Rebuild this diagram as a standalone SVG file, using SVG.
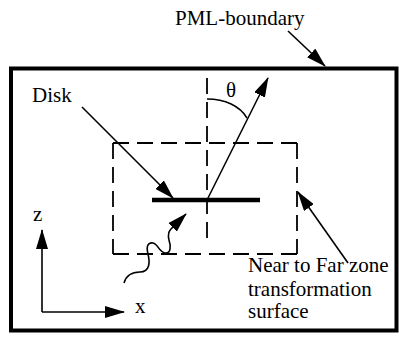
<svg xmlns="http://www.w3.org/2000/svg" width="399" height="337" viewBox="0 0 399 337">
<style>
text { font-family: "Liberation Serif", "Times New Roman", serif; font-size: 21px; fill: #000; }
.dash { fill: none; stroke: #000; stroke-width: 1.8; stroke-dasharray: 16 8; }
.arr { fill: none; stroke: #000; stroke-width: 1.6; marker-end: url(#ah); }
.thin { fill: none; stroke: #000; stroke-width: 1.5; }
</style>
<defs>
<marker id="ah" markerUnits="userSpaceOnUse" markerWidth="20" markerHeight="12" viewBox="0 0 20 12" refX="19" refY="6" orient="auto">
<path d="M0,0 L20,6 L0,12 z" fill="#000"/>
</marker>
</defs>
<rect width="399" height="337" fill="#fff"/>
<g id="pml-boundary">
<rect x="11" y="68.5" width="385.5" height="262" fill="none" stroke="#000" stroke-width="4"/>
<text x="175" y="25">PML-boundary</text>
</g>
<g id="transformation-surface">
<line class="dash" x1="113" y1="143" x2="297" y2="143"/>
<line class="dash" x1="113" y1="143" x2="113" y2="254"/>
<line class="dash" x1="297" y1="143" x2="297" y2="254"/>
<line class="dash" x1="113" y1="254" x2="297" y2="254"/>
<text x="248" y="272">Near to Far zone</text>
<text x="248" y="296">transformation</text>
<text x="248" y="318">surface</text>
</g>
<g id="axis">
<line class="dash" x1="207" y1="78" x2="207" y2="240" stroke-dasharray="14 8"/>
</g>
<g id="disk">
<line x1="152" y1="200" x2="260" y2="200" stroke="#000" stroke-width="4.5"/>
<text x="32" y="102">Disk</text>
</g>
<g id="theta">
<path class="thin" d="M207,99 C225,99 240,106 247,118"/>
<text x="226" y="97">θ</text>
</g>
<g id="coordinates">
<text x="33" y="221">z</text>
<text x="135" y="313">x</text>
</g>
<g id="connectors">
<line class="arr" x1="288" y1="31" x2="325" y2="66"/>
<line class="arr" x1="82" y1="107" x2="173" y2="198"/>
<line class="arr" x1="207" y1="200" x2="268" y2="78"/>
<line class="arr" x1="348" y1="263" x2="298" y2="192"/>
<path class="arr" d="M124,283 C126,276 132,272 140,272 C150,272 150,262 148,254 C146,246 148,242 153,243 C158,244 159,252 165,253 C171,254 171,246 169,240 C168,236 168,232 171,229 L186,214"/>
<polyline class="arr" points="42,312 42,230"/>
<polyline class="arr" points="42,312 124,312" style="marker-end:url(#ah)"/>
</g>
</svg>
